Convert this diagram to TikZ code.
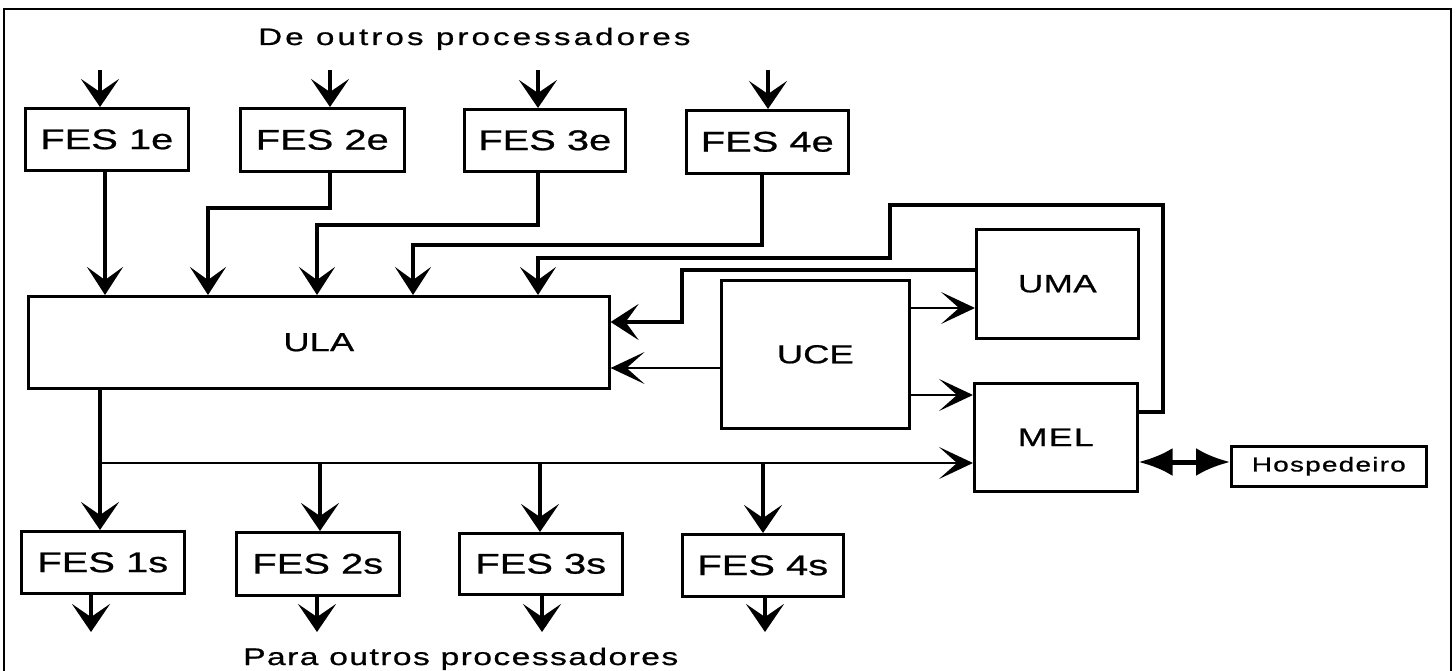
\documentclass[tikz,border=0pt]{standalone}
\usepackage{fontspec}
\setmainfont{Liberation Sans}
\newfontfamily\lf[FakeStretch=1.4,FakeBold=0.8]{Liberation Sans}
\usetikzlibrary{arrows.meta,calc}
\begin{document}
\begin{tikzpicture}[x=1pt,y=-1pt,
  box/.style={draw,line width=2.6pt,inner sep=0pt,anchor=north west},
  fes/.style={box,font={\lf\fontsize{28.5}{32}\selectfont}},
  big/.style={box,font={\lf\fontsize{26}{30}\selectfont}},
  title/.style={anchor=base west,inner sep=0pt},
  arr/.style={line width=3.8pt,-{Stealth[length=28pt,width=38pt,inset=13pt]}},
  conn/.style={line width=3.3pt,-{Stealth[length=28pt,width=36pt,inset=13pt]}},
  tarr/.style={line width=2.4pt,-{Stealth[length=34pt,width=32pt,inset=18pt]}},
  dbl/.style={line width=5pt,{Latex[length=34pt,width=28pt]}-{Latex[length=34pt,width=28pt]}}
]
\useasboundingbox (0,0) rectangle (1456,671);
\draw[line width=2.5pt] (4,675) -- (4,9) -- (1451,9) -- (1451,675);

% titles
\node[title,font={\lf\fontsize{23.7}{28}\selectfont\addfontfeature{LetterSpace=13}}] (tin) at (258,45) {De outros processadores};
\node[title,font={\lf\fontsize{24}{28}\selectfont\addfontfeature{LetterSpace=6}}] (tout) at (243,665) {Para outros processadores};

% input FES
\node[fes,minimum width=163pt,minimum height=62pt] (fes1e) at (24,107) {FES 1e};
\node[fes,minimum width=164pt,minimum height=63pt] (fes2e) at (239,107) {FES 2e};
\node[fes,minimum width=161pt,minimum height=62pt] (fes3e) at (463,108) {FES 3e};
\node[fes,minimum width=162pt,minimum height=63pt] (fes4e) at (685,109) {FES 4e};

% main units
\node[big,minimum width=581pt,minimum height=92pt] (ula) at (27,295) {ULA};
\node[big,minimum width=188pt,minimum height=148pt] (uce) at (720,279) {UCE};
\node[big,minimum width=162pt,minimum height=109pt,font={\lf\fontsize{25}{30}\selectfont\addfontfeature{LetterSpace=2}}] (uma) at (975,228) {UMA};
\node[big,minimum width=163pt,minimum height=108pt,font={\lf\fontsize{25.5}{30}\selectfont\addfontfeature{LetterSpace=5}}] (mel) at (973,382) {\raisebox{-5pt}{MEL}};
\node[box,minimum width=195pt,minimum height=40pt,font={\lf\fontsize{20}{24}\selectfont\addfontfeature{LetterSpace=6}}] (hosp) at (1230,445) {Hospedeiro};

% output FES
\node[fes,minimum width=163pt,minimum height=62pt] (fes1s) at (20,530) {FES 1s};
\node[fes,minimum width=163pt,minimum height=63pt] (fes2s) at (235,531) {FES 2s};
\node[fes,minimum width=163pt,minimum height=61pt] (fes3s) at (458,532) {FES 3s};
\node[fes,minimum width=161pt,minimum height=62pt] (fes4s) at (681,533) {FES 4s};

% coordinates
\coordinate (i1) at (100,70); \coordinate (i2) at (330,70);
\coordinate (i3) at (538,70); \coordinate (i4) at (768,70);
\coordinate (c1) at (105,0);
\coordinate (c2) at (330,208); \coordinate (d2) at (208,208);
\coordinate (c3) at (538,225); \coordinate (d3) at (317,225);
\coordinate (c4) at (762,245); \coordinate (d4) at (413,245);
\coordinate (m1) at (1163,412); \coordinate (m2) at (1163,205);
\coordinate (m3) at (890,205); \coordinate (m4) at (890,258);
\coordinate (m5) at (538,258);
\coordinate (u1) at (682,270); \coordinate (u2) at (682,322);
\coordinate (e1) at (0,368); \coordinate (e2) at (0,308); \coordinate (e3) at (0,395);
\coordinate (j0) at (100,463);
\coordinate (b2) at (320,463); \coordinate (b3) at (540,463); \coordinate (b4) at (763,463);
\coordinate (o1) at (91,632); \coordinate (o2) at (317,632);
\coordinate (o3) at (542,632); \coordinate (o4) at (765,632);
\coordinate (h) at (0,462);

% inputs from other processors
\draw[arr] (i1) -- (i1 |- fes1e.north);
\draw[arr] (i2) -- (i2 |- fes2e.north);
\draw[arr] (i3) -- (i3 |- fes3e.north);
\draw[arr] (i4) -- (i4 |- fes4e.north);

% FES -> ULA
\draw[conn] (c1 |- fes1e.south) -- (c1 |- ula.north);
\draw[conn] (c2 |- fes2e.south) -- (c2) -- (d2) -- (d2 |- ula.north);
\draw[conn] (c3 |- fes3e.south) -- (c3) -- (d3) -- (d3 |- ula.north);
\draw[conn] (c4 |- fes4e.south) -- (c4) -- (d4) -- (d4 |- ula.north);

% MEL feedback to ULA
\draw[conn] (mel.east |- m1) -- (m1) -- (m2) -- (m3) -- (m4) -- (m5) -- (m5 |- ula.north);
% UMA to ULA
\draw[conn] (uma.west |- u1) -- (u1) -- (u2) -- (ula.east |- u2);
% UCE links
\draw[tarr] (uce.west |- e1) -- (ula.east |- e1);
\draw[tarr] (uce.east |- e2) -- (uma.west |- e2);
\draw[tarr] (uce.east |- e3) -- (mel.west |- e3);

% output bus
\draw[arr] (j0 |- ula.south) -- (j0 |- fes1s.north);
\draw[tarr] (j0) -- (mel.west |- j0);
\draw[arr] (b2) -- (b2 |- fes2s.north);
\draw[arr] (b3) -- (b3 |- fes3s.north);
\draw[arr] (b4) -- (b4 |- fes4s.north);

% outputs to other processors
\draw[arr] (o1 |- fes1s.south) -- (o1);
\draw[arr] (o2 |- fes2s.south) -- (o2);
\draw[arr] (o3 |- fes3s.south) -- (o3);
\draw[arr] (o4 |- fes4s.south) -- (o4);

% host
\draw[dbl] (mel.east |- h) -- (hosp.west |- h);
\end{tikzpicture}
\end{document}
